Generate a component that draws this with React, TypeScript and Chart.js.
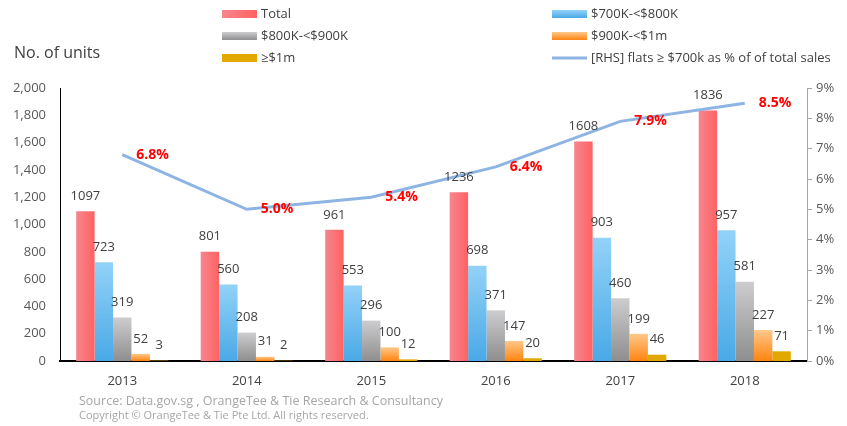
import { useEffect, useRef } from 'react';
import { Chart, registerables } from 'chart.js';

Chart.register(...registerables);

const FONT = '"Open Sans", "DejaVu Sans", sans-serif';

const categories = ['2013', '2014', '2015', '2016', '2017', '2018'];
const total = [1097, 801, 961, 1236, 1608, 1836];
const k700to800 = [723, 560, 553, 698, 903, 957];
const k800to900 = [319, 208, 296, 371, 460, 581];
const k900to1m = [52, 31, 100, 147, 199, 227];
const over1m = [3, 2, 12, 20, 46, 71];
const shareOver700k = [6.8, 5.0, 5.4, 6.4, 7.9, 8.5];

const leftTicks = { min: 0, max: 2000, step: 200 };
const rightTicks = { min: 0, max: 9, step: 1 };

const seriesNames = [
  'Total',
  '$700K-<$800K',
  '$800K-<$900K',
  '$900K-<$1m',
  '≥$1m',
  '[RHS] flats ≥ $700k as % of of total sales',
];

const CAT_PCT = 0.74;

export default function App() {
  const ref = useRef<HTMLCanvasElement>(null);

  useEffect(() => {
    document.body.style.margin = '0';
    const canvas = ref.current!;

    const vgrad = (top: string, bottom: string) => (c: any) => {
      const ch = c.chart;
      const ys = ch.scales && ch.scales.y;
      if (!ys || c.type !== 'data') return bottom;
      const y0 = ys.getPixelForValue(c.raw);
      const y1 = ys.getPixelForValue(0);
      if (!isFinite(y0) || !isFinite(y1) || y0 === y1) return bottom;
      const g = ch.ctx.createLinearGradient(0, y0, 0, y1);
      g.addColorStop(0, top);
      g.addColorStop(1, bottom);
      return g;
    };

    const hgrad = (left: string, right: string) => (c: any) => {
      const ch = c.chart;
      const xs = ch.scales && ch.scales.x;
      if (!xs || c.type !== 'data') return right;
      const cx = xs.getPixelForValue(c.dataIndex);
      const catW = xs.width / categories.length;
      const groupW = catW * CAT_PCT;
      const barW = groupW / 5;
      const x0 = cx - groupW / 2;
      if (!isFinite(x0)) return right;
      const g = ch.ctx.createLinearGradient(x0, 0, x0 + barW, 0);
      g.addColorStop(0, left);
      g.addColorStop(1, right);
      return g;
    };

    const labelPlugin = {
      id: 'valueLabels',
      afterDatasetsDraw(chart: any) {
        const ctx = chart.ctx;
        ctx.save();
        chart.data.datasets.forEach((ds: any, i: number) => {
          const meta = chart.getDatasetMeta(i);
          if (meta.type === 'bar') {
            ctx.font = `13px ${FONT}`;
            ctx.fillStyle = '#404040';
            ctx.textAlign = 'center';
            ctx.textBaseline = 'middle';
            meta.data.forEach((el: any, j: number) => {
              ctx.fillText(String(ds.data[j]), el.x, el.y - 15);
            });
          } else {
            ctx.font = `bold 14px ${FONT}`;
            ctx.fillStyle = '#FF0000';
            ctx.textAlign = 'left';
            ctx.textBaseline = 'middle';
            meta.data.forEach((el: any, j: number) => {
              ctx.fillText(ds.data[j].toFixed(1) + '%', el.x + 14, el.y);
            });
          }
        });
        ctx.restore();
      },
    };

    const decorPlugin = {
      id: 'decor',
      afterDraw(chart: any) {
        const ctx = chart.ctx;
        ctx.save();
        ctx.font = `16px ${FONT}`;
        ctx.fillStyle = '#404040';
        ctx.textAlign = 'left';
        ctx.textBaseline = 'middle';
        ctx.fillText('No. of units', 14, 53);

        const items = [
          { x: 222, y: 14, kind: 'h', c1: '#F5868E', c2: '#FF6262', label: seriesNames[0] },
          { x: 222, y: 36, kind: 'v', c1: '#CDCDD0', c2: '#8E8E8E', label: seriesNames[2] },
          { x: 222, y: 58, kind: 's', c1: '#E0A800', c2: '#E0A800', label: seriesNames[4] },
          { x: 552, y: 14, kind: 'v', c1: '#92D2F8', c2: '#4AA9E6', label: seriesNames[1] },
          { x: 552, y: 36, kind: 'v', c1: '#FFC88A', c2: '#FF8410', label: seriesNames[3] },
          { x: 552, y: 58, kind: 'l', c1: '#8DB4E2', c2: '#8DB4E2', label: seriesNames[5] },
        ];
        items.forEach((it) => {
          if (it.kind === 'l') {
            ctx.strokeStyle = it.c1;
            ctx.lineWidth = 3;
            ctx.beginPath();
            ctx.moveTo(it.x, it.y);
            ctx.lineTo(it.x + 35, it.y);
            ctx.stroke();
          } else {
            let fill: any = it.c1;
            if (it.kind === 'h') {
              const g = ctx.createLinearGradient(it.x, 0, it.x + 35, 0);
              g.addColorStop(0, it.c1);
              g.addColorStop(1, it.c2);
              fill = g;
            } else if (it.kind === 'v') {
              const g = ctx.createLinearGradient(0, it.y - 4, 0, it.y + 4);
              g.addColorStop(0, it.c1);
              g.addColorStop(1, it.c2);
              fill = g;
            }
            ctx.fillStyle = fill;
            ctx.fillRect(it.x, it.y - 4, 35, 8);
          }
          ctx.font = `13px ${FONT}`;
          ctx.fillStyle = '#404040';
          ctx.textAlign = 'left';
          ctx.textBaseline = 'middle';
          ctx.fillText(it.label, it.x + 39, it.y);
        });

        ctx.fillStyle = '#A6A6A6';
        ctx.font = `12.5px ${FONT}`;
        ctx.fillText('Source: Data.gov.sg , OrangeTee & Tie Research & Consultancy', 79, 401);
        ctx.font = `11px ${FONT}`;
        ctx.fillText('Copyright © OrangeTee & Tie Pte Ltd. All rights reserved.', 79, 416);
        ctx.restore();
      },
    };

    const barCommon = {
      type: 'bar' as const,
      yAxisID: 'y',
      barPercentage: 1,
      categoryPercentage: CAT_PCT,
      borderWidth: 0,
      order: 1,
    };

    const chart = new Chart(canvas, {
      type: 'bar',
      data: {
        labels: categories,
        datasets: [
          {
            type: 'line',
            label: seriesNames[5],
            data: shareOver700k,
            yAxisID: 'y1',
            borderColor: '#8DB4E2',
            borderWidth: 3,
            pointRadius: 0,
            tension: 0,
            order: 0,
          } as any,
          { ...barCommon, label: seriesNames[0], data: total, backgroundColor: hgrad('#F5868E', '#FF6262') },
          { ...barCommon, label: seriesNames[1], data: k700to800, backgroundColor: vgrad('#92D2F8', '#4AA9E6') },
          { ...barCommon, label: seriesNames[2], data: k800to900, backgroundColor: vgrad('#CDCDD0', '#8E8E8E') },
          { ...barCommon, label: seriesNames[3], data: k900to1m, backgroundColor: vgrad('#FFC88A', '#FF8410') },
          { ...barCommon, label: seriesNames[4], data: over1m, backgroundColor: '#E0A800' },
        ],
      },
      options: {
        animation: false,
        responsive: false,
        maintainAspectRatio: false,
        layout: { padding: { top: 88, left: 0, right: 0, bottom: 0 } },
        plugins: {
          legend: { display: false },
          tooltip: { enabled: false },
          title: { display: false },
        },
        scales: {
          x: {
            grid: { display: false, drawTicks: false },
            border: { display: true, color: '#000000', width: 2 },
            ticks: { font: { family: FONT, size: 13 }, color: '#404040', padding: 12 },
            afterFit: (s: any) => {
              s.height = 65;
            },
          },
          y: {
            position: 'left',
            min: leftTicks.min,
            max: leftTicks.max,
            grid: { display: false, drawTicks: false },
            border: { display: true, color: '#000000', width: 1 },
            ticks: {
              stepSize: leftTicks.step,
              font: { family: FONT, size: 13 },
              color: '#595959',
              padding: 14,
              callback: (v: any) => Number(v).toLocaleString('en-US'),
            },
            afterFit: (s: any) => {
              s.width = 60;
            },
          },
          y1: {
            position: 'right',
            min: rightTicks.min,
            max: rightTicks.max,
            grid: {
              display: true,
              drawOnChartArea: false,
              drawTicks: true,
              tickLength: 5,
              color: '#A6A6A6',
            },
            border: { display: true, color: '#A6A6A6', width: 1 },
            ticks: {
              stepSize: rightTicks.step,
              font: { family: FONT, size: 13 },
              color: '#595959',
              padding: 4,
              callback: (v: any) => v + '%',
            },
            afterFit: (s: any) => {
              s.width = 40;
            },
          },
        },
      } as any,
      plugins: [labelPlugin, decorPlugin],
    });

    return () => chart.destroy();
  }, []);

  return (
    <div style={{ width: 847, height: 426, background: '#fff' }}>
      <canvas ref={ref} width={847} height={426} style={{ display: 'block' }} />
    </div>
  );
}
